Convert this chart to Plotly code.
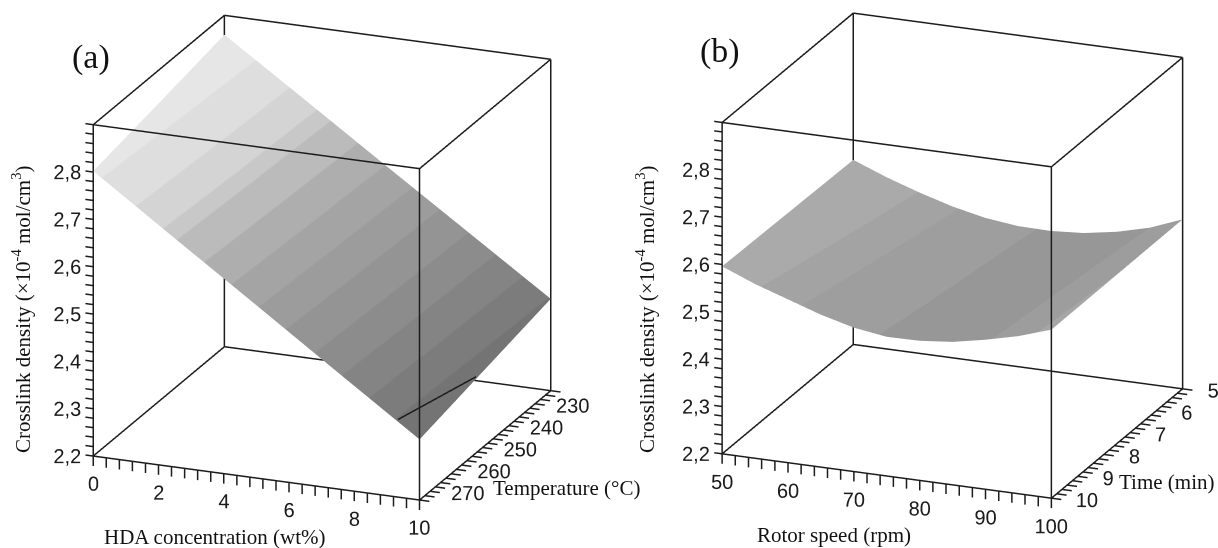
import plotly.graph_objects as go

# ---------- data ----------
hda = [0, 2.5, 5, 7.5, 10]
temperature = [230, 255, 280]
density_a = [
    [2.859, 2.743, 2.626, 2.510, 2.394],
    [2.830, 2.712, 2.595, 2.477, 2.361],
    [2.802, 2.683, 2.565, 2.446, 2.328],
]
contour_hda = [9.34, 10.0]
contour_temp = [280, 258.5]
contour_z = [2.364, 2.361]

rotor = [50, 55, 60, 65, 70, 75, 80, 85, 90, 95, 100]
time_min = [5, 7.5, 10]
density_b = [
    [2.590, 2.563, 2.540, 2.520, 2.505, 2.497, 2.496, 2.501, 2.513, 2.531, 2.558],
    [2.593, 2.565, 2.542, 2.521, 2.504, 2.495, 2.495, 2.501, 2.514, 2.532, 2.557],
    [2.596, 2.568, 2.545, 2.522, 2.504, 2.494, 2.495, 2.502, 2.516, 2.533, 2.556],
]

z_range = [2.2, 2.9]
z_major = [2.2, 2.3, 2.4, 2.5, 2.6, 2.7, 2.8]
z_labels = ["2,2", "2,3", "2,4", "2,5", "2,6", "2,7", "2,8"]
z_step = 0.02

hda_range = [0, 10]
hda_major = [0, 2, 4, 6, 8, 10]
hda_step = 0.4
temp_range = [280, 230]
temp_major = [230, 240, 250, 260, 270]
temp_step = 2
rotor_range = [50, 100]
rotor_major = [50, 60, 70, 80, 90, 100]
rotor_step = 2
time_range = [10, 5]
time_major = [5, 6, 7, 8, 9, 10]
time_step = 0.2

# shading bands of the picture: they run almost along the time/temperature axis, so each row of the
# shade table is the x position of the band boundaries on that row
shade_a = [
    [-0.7, 1.8, 4.3, 6.8, 9.3],
    [-0.35, 2.15, 4.65, 7.15, 9.65],
    [0, 2.5, 5, 7.5, 10],
]
band_edges_a = [-0.7, 0.25, 1.3, 2.15, 2.57, 3.4, 4.26, 5.1, 5.95, 6.8, 7.64, 8.5, 9.3, 10]
band_grays_a = [230, 222, 212, 200, 187, 174, 164, 156, 148, 140, 132, 124, 116]
shade_b = [
    [46, 51, 56, 61, 66, 71, 76, 81, 86, 91, 96],
    [48, 53, 58, 63, 68, 73, 78, 83, 88, 93, 98],
    [50, 55, 60, 65, 70, 75, 80, 85, 90, 95, 100],
]
band_edges_b = [46, 56, 62, 74, 91, 98, 100]
band_grays_b = [170, 163, 158, 151, 157, 166]

PAD = 0.2  # extra room round the box, as a share of each axis, so ticks and labels are not clipped
ZOOM = 1.797
INK = "#1c1c1c"


def steps(rng, step):
    lo, hi = min(rng), max(rng)
    n = int(round((hi - lo) / step))
    return [round(lo + i * step, 4) for i in range(n + 1)]


def scale(edges, grays):
    lo, hi = edges[0], edges[-1]
    out = []
    for i, g in enumerate(grays):
        c = f"rgb({g},{g},{g})"
        out.append([(edges[i] - lo) / (hi - lo), c])
        out.append([(edges[i + 1] - lo) / (hi - lo), c])
    return out


def box(xr, yr, zr):
    xs, ys, zs = [], [], []
    for (a, b) in [((0, 0, 0), (1, 0, 0)), ((1, 0, 0), (1, 1, 0)), ((1, 1, 0), (0, 1, 0)), ((0, 1, 0), (0, 0, 0)),
                   ((0, 0, 1), (1, 0, 1)), ((1, 0, 1), (1, 1, 1)), ((1, 1, 1), (0, 1, 1)), ((0, 1, 1), (0, 0, 1)),
                   ((0, 0, 0), (0, 0, 1)), ((1, 0, 0), (1, 0, 1)), ((1, 1, 0), (1, 1, 1)), ((0, 1, 0), (0, 1, 1))]:
        for p in (a, b):
            xs.append(xr[p[0]]); ys.append(yr[p[1]]); zs.append(zr[p[2]])
        xs.append(None); ys.append(None); zs.append(None)
    return xs, ys, zs


def padded(rng):
    span = rng[1] - rng[0]
    return [rng[0] - PAD * span, rng[1] + PAD * span]


LIGHT = dict(ambient=1, diffuse=0, specular=0, roughness=1, fresnel=0)
fig = go.Figure()


def panel(scene, xs, ys, zs, shade, xr, yr, xmaj, ymaj, xstep, ystep, edges, grays, z_tick_off, x_lab_off, y_lab_x,
          y_lab_z, y_pos):
    fig.add_trace(go.Surface(x=xs, y=ys, z=zs, surfacecolor=shade, colorscale=scale(edges, grays),
                             cmin=edges[0], cmax=edges[-1], showscale=False, lighting=LIGHT,
                             scene=scene, hoverinfo="skip"))
    bx, by, bz = box(xr, yr, z_range)
    # tick marks
    xspan = xr[1] - xr[0]
    front, right, left, low = yr[0], xr[1], xr[0], z_range[0]
    for v in steps(xr, xstep):
        bx += [v, v, None]; by += [front, front, None]; bz += [low, low - 0.021, None]
    for v in steps(yr, ystep):
        bx += [right, right + 0.03 * xspan, None]; by += [v, v, None]; bz += [low, low, None]
    for v in steps(z_range, z_step):
        bx += [left, left - 0.024 * xspan, None]; by += [front, front, None]; bz += [v, v, None]
    fig.add_trace(go.Scatter3d(x=bx, y=by, z=bz, mode="lines", line=dict(color=INK, width=3),
                               scene=scene, showlegend=False, hoverinfo="skip"))
    font = dict(family="Liberation Sans", size=20, color=INK)
    fig.add_trace(go.Scatter3d(x=xmaj, y=[front] * len(xmaj), z=[low - x_lab_off] * len(xmaj), mode="text",
                               text=[str(v) for v in xmaj], textfont=font, textposition="middle center",
                               scene=scene, showlegend=False, hoverinfo="skip"))
    fig.add_trace(go.Scatter3d(x=[right + y_lab_x * xspan] * len(ymaj), y=ymaj, z=[low + y_lab_z] * len(ymaj),
                               mode="text", text=[str(v) for v in ymaj], textfont=font, textposition=y_pos,
                               scene=scene, showlegend=False, hoverinfo="skip"))
    fig.add_trace(go.Scatter3d(x=[left - 0.08 * xspan] * len(z_major), y=[front] * len(z_major),
                               z=[v - z_tick_off for v in z_major], mode="text", text=z_labels, textfont=font,
                               textposition="middle center", scene=scene, showlegend=False, hoverinfo="skip"))


panel("scene", hda, temperature, density_a, shade_a, hda_range, temp_range, hda_major, temp_major, hda_step, temp_step,
      band_edges_a, band_grays_a, 0.01, 0.058, 0.067, -0.025, "middle center")
fig.add_trace(go.Scatter3d(x=contour_hda, y=contour_temp, z=contour_z, mode="lines",
                           line=dict(color=INK, width=3), scene="scene", showlegend=False, hoverinfo="skip"))
panel("scene2", rotor, time_min, density_b, shade_b, rotor_range, time_range, rotor_major, time_major, rotor_step,
      time_step, band_edges_b, band_grays_b, 0.01, 0.059, 0.018, -0.002, "middle right")


def axis(rng):
    return dict(range=padded(rng), visible=False, showspikes=False)


EYE_R = 2.5
DIR = (0.3514, -0.8742, 0.3351)


def camera(shift_z, shift_x=0.0, shift_y=0.0):
    return dict(eye=dict(x=DIR[0] * EYE_R + shift_x, y=DIR[1] * EYE_R + shift_y, z=DIR[2] * EYE_R + shift_z),
                up=dict(x=0, y=0, z=1), center=dict(x=shift_x, y=shift_y, z=shift_z),
                projection=dict(type="orthographic"))


fig.update_layout(
    width=1218, height=548, margin=dict(l=0, r=0, t=0, b=0), paper_bgcolor="white", showlegend=False,
    scene=dict(domain=dict(x=[0, 0.5287], y=[0, 1]), aspectmode="manual",
               aspectratio=dict(x=ZOOM, y=ZOOM, z=ZOOM),
               camera=camera(-0.0632),
               xaxis=axis(hda_range), yaxis=axis(temp_range), zaxis=axis(z_range)),
    scene2=dict(domain=dict(x=[0.545, 1], y=[0, 1]), aspectmode="manual",
                aspectratio=dict(x=ZOOM * 1.009, y=ZOOM, z=ZOOM),
                camera=camera(-0.0711, -0.0385, -0.0155),
                xaxis=axis(rotor_range), yaxis=axis(time_range), zaxis=axis(z_range)),
)

SERIF = "Liberation Serif"
Y_TITLE = "Crosslink density (×10<sup>-4</sup> mol/cm<sup>3</sup>)"
notes = [
    ("(a)", 91, 57, 34, 0), ("(b)", 720, 51, 34, 0),
    ("HDA concentration (wt%)", 214.5, 537, 21, 0), ("Rotor speed (rpm)", 834, 535, 21, 0),
    ("Temperature (°C)", 566, 488, 21, 0), ("Time (min)", 1166, 482, 21, 0),
    (Y_TITLE, 21, 309, 21, -90), (Y_TITLE, 645, 309, 21, -90),
]
for text, px, py, size, angle in notes:
    fig.add_annotation(text=text, x=px / 1218, y=1 - py / 548, xref="paper", yref="paper", showarrow=False,
                       textangle=angle, font=dict(family=SERIF, size=size, color="#111"),
                       xanchor="center", yanchor="middle")

fig.write_html("out.html", post_script="document.body.style.margin='0';",
               config=dict(displayModeBar=False))
